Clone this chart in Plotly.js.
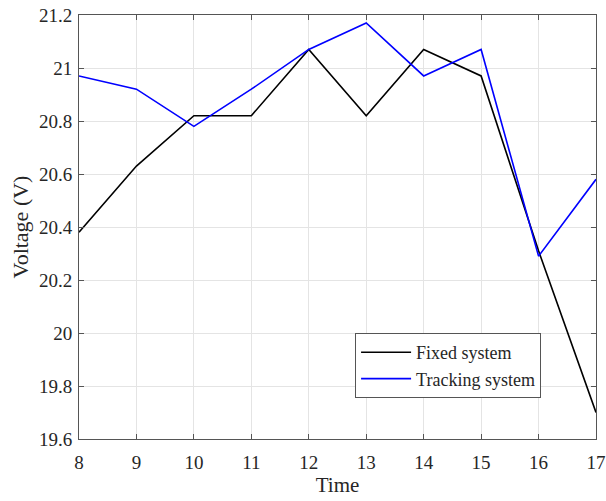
<!DOCTYPE html>
<html>
<head>
<meta charset="utf-8">
<script src="https://cdn.plot.ly/plotly-3.0.1.min.js"></script>
<style>html,body{margin:0;padding:0;background:#fff;}#chart{width:606px;height:501px;}</style>
</head>
<body>
<div id="chart"></div>
<script>
const time = [8, 9, 10, 11, 12, 13, 14, 15, 16, 17];
const fixedSystem = [20.38, 20.63, 20.82, 20.82, 21.07, 20.82, 21.07, 20.97, 20.31, 19.70];
const trackingSystem = [20.97, 20.92, 20.78, 20.92, 21.07, 21.17, 20.97, 21.07, 20.29, 20.58];
const xTicks = [8, 9, 10, 11, 12, 13, 14, 15, 16, 17];
const yTicks = [19.6, 19.8, 20, 20.2, 20.4, 20.6, 20.8, 21, 21.2];
const yTickText = ['19.6', '19.8', '20', '20.2', '20.4', '20.6', '20.8', '21', '21.2'];

const fam = '"Liberation Serif", "Times New Roman", serif';
const font = {family: fam, size: 19, color: '#262626'};

const traces = [
  {x: time, y: fixedSystem, type: 'scatter', mode: 'lines', name: 'Fixed system',
   line: {color: '#000000', width: 1.6}},
  {x: time, y: trackingSystem, type: 'scatter', mode: 'lines', name: 'Tracking system',
   line: {color: '#0000ff', width: 1.6}}
];

const axisCommon = {
  showline: true, linecolor: '#555555', linewidth: 1, mirror: 'ticks',
  ticks: 'inside', ticklen: 5, tickcolor: '#555555', tickwidth: 1,
  showgrid: true, gridcolor: '#e4e4e4', gridwidth: 1, zeroline: false,
  tickfont: font
};

const layout = {
  width: 606, height: 501,
  margin: {l: 79, r: 10, t: 15, b: 62},
  paper_bgcolor: '#ffffff', plot_bgcolor: '#ffffff',
  font: font,
  showlegend: true,
  legend: {
    x: 0.534, y: 0.25, xanchor: 'left', yanchor: 'top',
    bgcolor: '#ffffff', bordercolor: '#555555', borderwidth: 1,
    font: {family: fam, size: 18, color: '#262626'}, tracegroupgap: 0,
    itemwidth: 50
  },
  xaxis: Object.assign({}, axisCommon, {
    range: [8, 17], tickvals: xTicks, ticktext: xTicks.map(String),
    ticklabelstandoff: 6,
    title: {text: 'Time', font: {family: fam, size: 21, color: '#262626'}, standoff: 4}
  }),
  yaxis: Object.assign({}, axisCommon, {
    range: [19.6, 21.2], tickvals: yTicks, ticktext: yTickText,
    ticklabelstandoff: 2,
    title: {text: 'Voltage (V)', font: {family: fam, size: 22, color: '#262626'}, standoff: 4}
  })
};

Plotly.newPlot('chart', traces, layout, {displayModeBar: false, staticPlot: true});
</script>
</body>
</html>
